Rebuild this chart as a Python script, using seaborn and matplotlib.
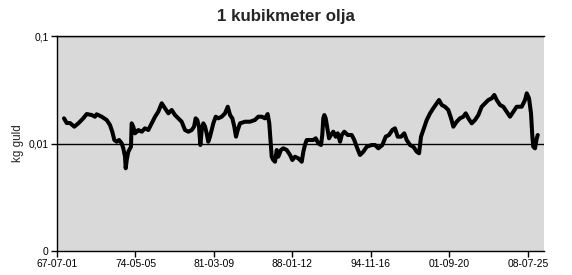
import numpy as np
import pandas as pd
import matplotlib
matplotlib.use("Agg")
import matplotlib.pyplot as plt
import matplotlib.ticker as mticker
import seaborn as sns

# ---- data (decimal year, kg gold per cubic metre of oil) ----
years = [1968.11, 1968.35, 1968.63, 1969.01, 1969.36, 1969.79, 1970.09, 1970.53, 1970.81, 1970.96,
         1971.40, 1971.83, 1972.12, 1972.32, 1972.50, 1972.71, 1972.91, 1973.14, 1973.28, 1973.43,
         1973.49, 1973.58, 1973.72, 1973.95, 1974.01, 1974.15, 1974.30, 1974.45, 1974.59, 1974.89,
         1975.17, 1975.46, 1975.76, 1976.05, 1976.33, 1976.63, 1976.92, 1977.21, 1977.50, 1977.79,
         1978.08, 1978.37, 1978.66, 1978.95, 1979.25, 1979.45, 1979.59, 1979.73, 1979.88, 1980.00,
         1980.12, 1980.26, 1980.41, 1980.55, 1980.69, 1980.84, 1980.99, 1981.13, 1981.34, 1981.57,
         1981.86, 1982.15, 1982.39, 1982.59, 1982.79, 1982.96, 1983.11, 1983.26, 1983.46, 1983.89,
         1984.33, 1984.76, 1985.05, 1985.35, 1985.64, 1985.87, 1986.01, 1986.13, 1986.22, 1986.36,
         1986.51, 1986.66, 1986.80, 1987.03, 1987.23, 1987.53, 1987.82, 1988.02, 1988.25, 1988.54,
         1988.84, 1988.98, 1989.12, 1989.27, 1989.56, 1989.85, 1990.06, 1990.28, 1990.52, 1990.63,
         1990.72, 1990.81, 1990.93, 1991.07, 1991.22, 1991.39, 1991.59, 1991.80, 1991.98, 1992.18,
         1992.33, 1992.55, 1992.85, 1993.20, 1993.42, 1993.63, 1993.92, 1994.21, 1994.51, 1994.94,
         1995.23, 1995.52, 1995.87, 1996.16, 1996.45, 1996.74, 1996.97, 1997.21, 1997.50, 1997.78,
         1997.99, 1998.28, 1998.57, 1998.87, 1999.07, 1999.24, 1999.44, 1999.74, 2000.03, 2000.31,
         2000.61, 2000.81, 2001.05, 2001.33, 2001.62, 2001.86, 2002.06, 2002.35, 2002.64, 2002.93,
         2003.14, 2003.37, 2003.66, 2003.95, 2004.24, 2004.53, 2004.82, 2005.11, 2005.41, 2005.63,
         2005.84, 2006.13, 2006.42, 2006.71, 2007.00, 2007.29, 2007.58, 2008.02, 2008.31, 2008.46,
         2008.66, 2008.83, 2008.95, 2009.03, 2009.18, 2009.33, 2009.42]

kg_gold = [0.01715, 0.0155, 0.0155, 0.01434, 0.0154, 0.01715, 0.0188, 0.0184, 0.01775, 0.0187,
           0.01775, 0.01655, 0.01486, 0.01287, 0.01078, 0.01039, 0.01078, 0.01004, 0.00902, 0.00754,
           0.00588, 0.00702, 0.00839, 0.00934, 0.0154, 0.01434, 0.01244, 0.01287, 0.01335, 0.01287,
           0.01385, 0.01335, 0.0154, 0.01775, 0.01976, 0.02366, 0.02126, 0.01909, 0.0205, 0.0184,
           0.01715, 0.01595, 0.01335, 0.01287, 0.01335, 0.01434, 0.01715, 0.01655, 0.01434, 0.00968,
           0.01335, 0.0154, 0.01434, 0.01244, 0.01039, 0.01157, 0.01335, 0.0154, 0.01775, 0.01715,
           0.01775, 0.01909, 0.02198, 0.0184, 0.01715, 0.01434, 0.01157, 0.01335, 0.0154, 0.01595,
           0.01595, 0.01655, 0.01775, 0.01775, 0.01715, 0.0188, 0.0154, 0.01004, 0.00754, 0.00702,
           0.00677, 0.0087, 0.00754, 0.0087, 0.00902, 0.0087, 0.00782, 0.00702, 0.00754, 0.00728,
           0.00677, 0.00839, 0.00968, 0.01078, 0.01078, 0.01078, 0.01118, 0.01004, 0.00968, 0.012,
           0.01715, 0.0184, 0.01715, 0.01385, 0.01118, 0.012, 0.01287, 0.01157, 0.01244, 0.01039,
           0.012, 0.01287, 0.012, 0.012, 0.01078, 0.00934, 0.00782, 0.00839, 0.00934, 0.00968,
           0.00968, 0.00902, 0.00968, 0.01157, 0.012, 0.01335, 0.01385, 0.01157, 0.01157, 0.01244,
           0.01078, 0.00968, 0.00934, 0.00839, 0.00811, 0.01157, 0.01335, 0.01655, 0.01909, 0.02126,
           0.02366, 0.02539, 0.02281, 0.02198, 0.0205, 0.01715, 0.01434, 0.01595, 0.01715, 0.01775,
           0.01909, 0.01715, 0.0154, 0.01655, 0.0184, 0.02198, 0.02366, 0.02539, 0.02633, 0.02829,
           0.02539, 0.02281, 0.02198, 0.01976, 0.01775, 0.01976, 0.02198, 0.02198, 0.02539, 0.0293,
           0.02633, 0.01909, 0.01157, 0.00934, 0.00902, 0.01118, 0.012]

x_tick_dates = ["1967-07-01", "1974-05-05", "1981-03-09", "1988-01-12",
                "1994-11-16", "2001-09-20", "2008-07-25"]
x_tick_labels = ["67-07-01", "74-05-05", "81-03-09", "88-01-12",
                 "94-11-16", "01-09-20", "08-07-25"]
y_ticks = [0.001, 0.01, 0.1]
y_tick_labels = ["0", "0,01", "0,1"]

title = "1 kubikmeter olja"
y_label = "kg guld"

# ---- build frame ----
start = pd.Timestamp("1967-07-01")
dates = start + pd.to_timedelta((np.array(years) - 1967.5) * 365.25, unit="D")
df = pd.DataFrame({"date": dates, "kg": kg_gold})

sns.set_theme(style="white")
plt.rcParams["font.family"] = ["Liberation Sans", "DejaVu Sans"]

fig, ax = plt.subplots(figsize=(5.72, 2.75), dpi=100)
fig.subplots_adjust(left=57 / 572, right=544 / 572, top=1 - 36 / 275, bottom=1 - 251 / 275)
fig.patch.set_facecolor("white")
ax.set_facecolor("#d9d9d9")

sns.lineplot(data=df, x="date", y="kg", ax=ax, color="black", linewidth=2.9)

ax.set_yscale("log")
ax.set_ylim(0.001, 0.1)
ax.yaxis.set_major_locator(mticker.FixedLocator(y_ticks))
ax.yaxis.set_major_formatter(mticker.FixedFormatter(y_tick_labels))
ax.yaxis.set_minor_locator(mticker.NullLocator())

tick_dt = pd.to_datetime(x_tick_dates)
ax.set_xticks(tick_dt)
ax.set_xticklabels(x_tick_labels)
ax.set_xlim(start, start + pd.Timedelta(days=15510))

for v in y_ticks[1:]:
    ax.axhline(v, color="black", linewidth=1.0, zorder=1)

for s in ["left", "bottom", "top"]:
    ax.spines[s].set_visible(True)
    ax.spines[s].set_color("black")
    ax.spines[s].set_linewidth(1.0)
ax.spines["right"].set_visible(False)

ax.tick_params(axis="both", which="major", direction="out", length=4, width=1.0,
               color="black", labelsize=7.4, labelcolor="black", pad=2)
ax.tick_params(axis="x", bottom=True)
ax.tick_params(axis="y", left=True)

ax.set_xlabel("")
ax.set_ylabel("")
fig.text(0.5, 1 - 16 / 275, title, ha="center", va="center", fontsize=12.2, fontweight="bold")
fig.text(18 / 572, 1 - 143 / 275, y_label, ha="center", va="center", rotation=90, fontsize=8.4)

fig.savefig("out.png", dpi=100, facecolor="white")
